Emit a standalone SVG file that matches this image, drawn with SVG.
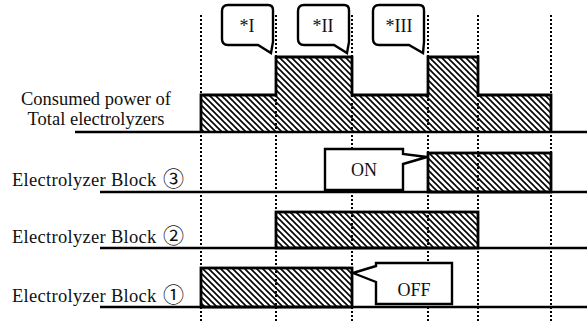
<svg xmlns="http://www.w3.org/2000/svg" width="587" height="322" viewBox="0 0 587 322">
<defs>
<pattern id="hatch" patternUnits="userSpaceOnUse" width="6" height="6">
<path d="M0,0 L6,6 M-1,5 L1,7 M5,-1 L7,1" stroke="#000" stroke-width="1.6"/>
</pattern>
<style>
.lbl{font-family:"Liberation Serif","Noto Sans CJK JP",serif;font-size:18.5px;fill:#111;}
.num{font-family:"Noto Sans CJK JP","DejaVu Sans",sans-serif;font-size:21px;}
.ct{font-family:"Liberation Serif",serif;font-size:18px;fill:#111;text-anchor:middle;}
.base{stroke:#000;stroke-width:2.4;fill:none;}
.bar{fill:url(#hatch);stroke:#000;stroke-width:2.8;}
.dot{stroke:#000;stroke-width:2;stroke-dasharray:2 2;fill:none;shape-rendering:crispEdges;}
.call{fill:#fff;stroke:#000;stroke-width:2.4;stroke-linejoin:miter;}
</style>
</defs>
<rect width="587" height="322" fill="#fff"/>

<g id="labels">
<text class="lbl" x="96" y="105" text-anchor="middle">Consumed power of</text>
<text class="lbl" x="96" y="125" text-anchor="middle">Total electrolyzers</text>
<text class="lbl" x="12" y="186" letter-spacing="0.3">Electrolyzer Block <tspan class="num" x="163">③</tspan></text>
<text class="lbl" x="12" y="243" letter-spacing="0.3">Electrolyzer Block <tspan class="num" x="163">②</tspan></text>
<text class="lbl" x="12" y="302" letter-spacing="0.3">Electrolyzer Block <tspan class="num" x="163">①</tspan></text>
</g>

<g id="baselines">
<line class="base" x1="75" y1="132" x2="587" y2="132"/>
<line class="base" x1="100" y1="192" x2="587" y2="192"/>
<line class="base" x1="100" y1="248" x2="587" y2="248"/>
<line class="base" x1="100" y1="307" x2="587" y2="307"/>
</g>

<g id="power">
<path class="bar" d="M201,132 V95 H276 V57 H352 V95 H428 V57 H478 V95 H551 V132"/>
</g>
<g id="block3"><rect class="bar" x="428" y="153" width="123" height="39"/></g>
<g id="block2"><rect class="bar" x="276" y="212" width="202" height="36"/></g>
<g id="block1"><rect class="bar" x="201" y="268" width="151" height="39"/></g>

<g id="connectors">
<line class="dot" x1="201" y1="15" x2="201" y2="322"/>
<line class="dot" x1="276" y1="15" x2="276" y2="322"/>
<line class="dot" x1="352" y1="15" x2="352" y2="322"/>
<line class="dot" x1="428" y1="15" x2="428" y2="322"/>
<line class="dot" x1="478" y1="15" x2="478" y2="322"/>
<line class="dot" x1="551" y1="15" x2="551" y2="322"/>
</g>

<g id="callout-I">
<path class="call" d="M228,5 H268 Q273,5 273,10 V42 L271,53 L258,45 H228 Q222,45 222,39 V11 Q222,5 228,5 Z"/>
<text class="ct" x="247" y="32">*I</text>
</g>
<g id="callout-II">
<path class="call" d="M304,5 H344 Q349,5 349,10 V42 L347,53 L334,45 H304 Q298,45 298,39 V11 Q298,5 304,5 Z"/>
<text class="ct" x="323" y="32">*II</text>
</g>
<g id="callout-III">
<path class="call" d="M379,5 H419 Q424,5 424,10 V42 L423,53 L409,45 H379 Q373,45 373,39 V11 Q373,5 379,5 Z"/>
<text class="ct" x="399" y="32">*III</text>
</g>
<g id="on">
<path class="call" d="M325,149 H403 V154 L427,157 L403,164 V190 H325 Z"/>
<text class="ct" x="364" y="176">ON</text>
</g>
<g id="off">
<path class="call" d="M376,263 H452 V304 H376 V282 L353,273 L376,266 Z"/>
<text class="ct" x="414" y="296">OFF</text>
</g>
</svg>
